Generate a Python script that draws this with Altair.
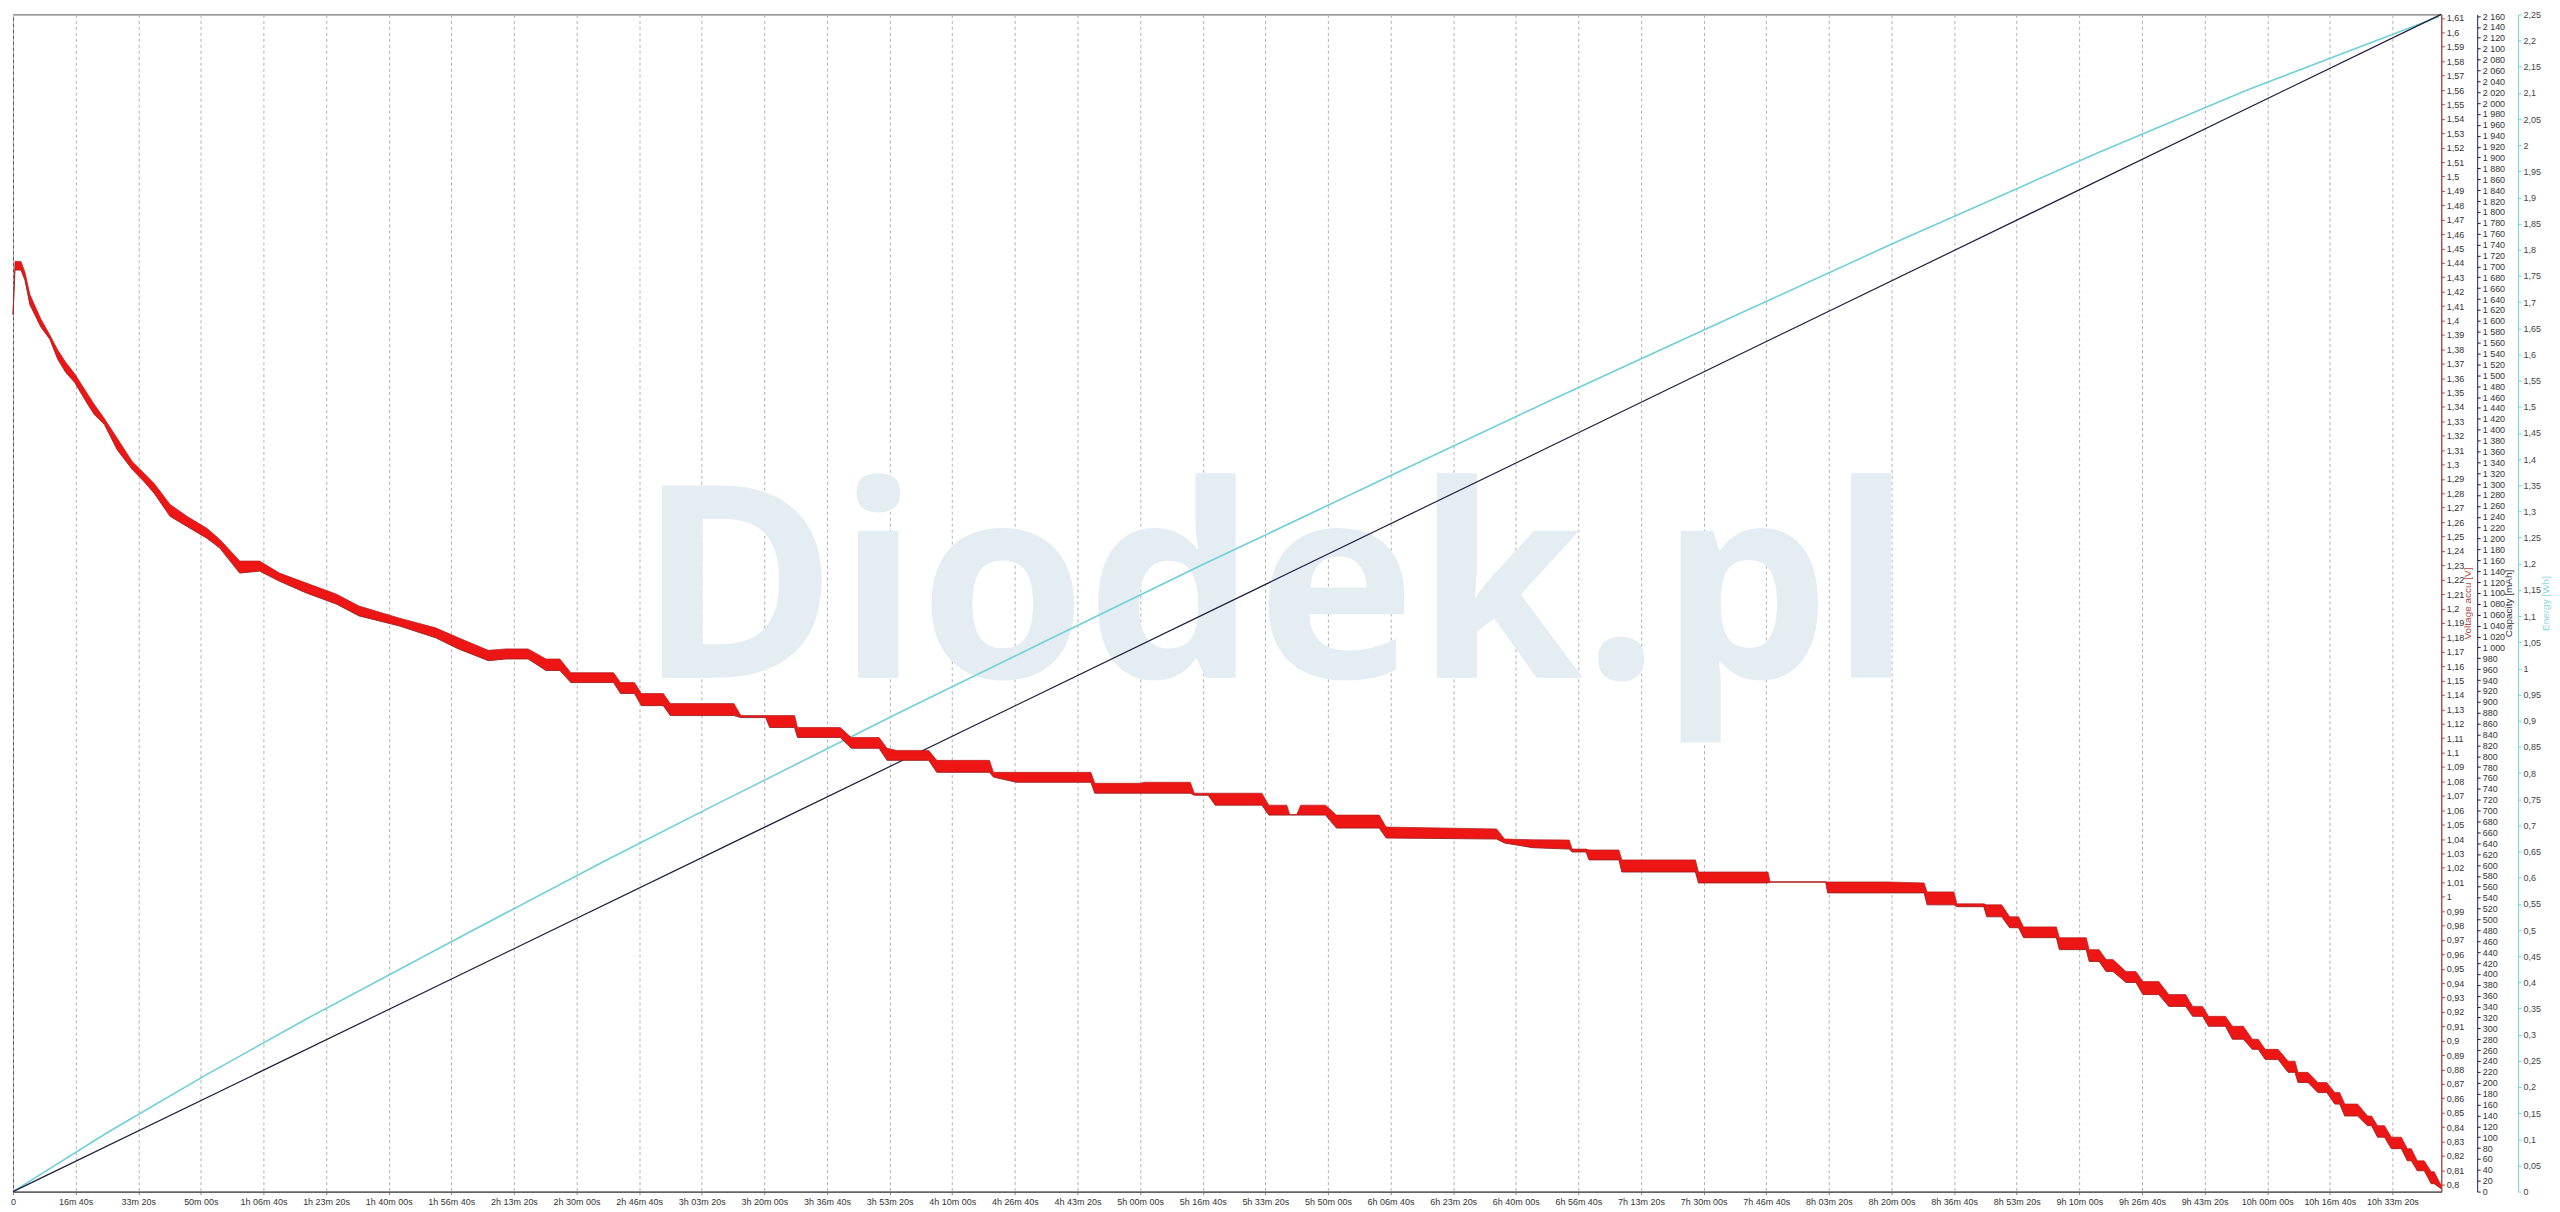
import altair as alt
import pandas as pd

# ---------------- data ----------------
# voltage trace envelope (time in seconds, lower / upper edge of the noisy red band, V)
v_t = [0, 32, 127, 191, 270, 445, 588, 715, 842, 985, 1191, 1302, 1461, 1667, 1906, 2096,
       2255, 2509, 2779, 3097, 3303, 3621, 3938, 4256, 4685, 5161, 5526, 6161, 6749, 7114, 7591,
       7876, 8226, 8512, 8734, 8909, 9591, 9703, 9925, 10036, 10386, 10497, 11513, 11624, 12021,
       12085, 12482, 12529, 13212, 13387, 13831, 13959, 14117, 14625, 14753, 15594, 15658,
       16023, 17214, 17277, 18008, 18071, 18802, 18865, 19088, 19199, 19945, 20056, 20342, 20390,
       20501, 20565, 20962, 21136, 21819, 21930, 23693,
       23821, 24265, 24853, 24900, 25122, 25170, 25646, 25694, 26869, 26917, 28028, 28060, 28949,
       28981, 29934, 30521, 30569, 30998, 31045, 31474,
       31522, 31760, 31887, 32030, 32109, 32633, 32681, 33110, 33157, 33316, 33427, 33538, 33745,
       33904, 34015, 34269, 34428, 34698, 34809, 34968, 35063, 35333, 35444, 35619, 35762, 35857,
       35968, 36174, 36333, 36444, 36492, 36651, 36809, 36952, 37079, 37158, 37238, 37444, 37603,
       37667, 37762, 37873, 37984, 38143, 38238, 38302, 38397, 38508, 38619, 38667, 38778]
v_lo = [1.404, 1.435, 1.435, 1.428, 1.411, 1.3955, 1.387, 1.373, 1.364, 1.357, 1.342, 1.3346,
        1.3277, 1.310, 1.2965, 1.288, 1.280, 1.264, 1.257, 1.2488, 1.242, 1.2246, 1.226, 1.219,
        1.2108, 1.2032, 1.1949, 1.188, 1.1797, 1.172, 1.1638,
        1.165, 1.165, 1.157, 1.157, 1.1486, 1.1486, 1.141, 1.141, 1.1326, 1.1326, 1.1257, 1.1257,
        1.1243, 1.1243, 1.1174, 1.1174, 1.1105, 1.1105, 1.103, 1.103, 1.0946, 1.0946, 1.0946,
        1.0863, 1.0863, 1.083,
        1.0794, 1.0794, 1.0718, 1.0718, 1.0718, 1.0718, 1.0704, 1.0704, 1.0635, 1.0635, 1.0566,
        1.0566, 1.0566, 1.0566, 1.0566, 1.0566, 1.0476, 1.0476, 1.0407, 1.040,
        1.0372, 1.034, 1.033, 1.031, 1.031, 1.0255, 1.0255, 1.0171, 1.0171, 1.0095, 1.0095, 1.010,
        1.010, 1.0026, 1.0026, 1.0026, 0.9943, 0.9943, 0.993, 0.993,
        0.986, 0.986, 0.9784, 0.9784, 0.9715, 0.9715, 0.9632, 0.9632, 0.955, 0.955, 0.948, 0.948,
        0.9404, 0.9404, 0.932, 0.932, 0.9238, 0.9238, 0.9169, 0.9169, 0.91, 0.91, 0.901, 0.901,
        0.894, 0.894, 0.887, 0.887, 0.878, 0.878, 0.871, 0.871, 0.864, 0.864, 0.856, 0.856,
        0.8477, 0.8477, 0.841, 0.841, 0.833, 0.833, 0.825, 0.825, 0.8166, 0.8166, 0.8097, 0.8097,
        0.8007, 0.8007, 0.7972]
v_hi = [1.404, 1.441, 1.441, 1.4335, 1.418, 1.401, 1.390, 1.3795, 1.371, 1.363, 1.349, 1.3415,
        1.3318, 1.318, 1.302, 1.2938, 1.2868, 1.2723, 1.264, 1.2557, 1.248, 1.233, 1.233, 1.2246,
        1.2177, 1.2101, 1.2018, 1.1935, 1.1866, 1.1797, 1.171,
        1.172, 1.172, 1.165, 1.165, 1.1555, 1.1555, 1.1486, 1.1486, 1.141, 1.141, 1.134, 1.134,
        1.1257, 1.1257, 1.1257, 1.1257, 1.1174, 1.1174, 1.1105, 1.1105, 1.103, 1.1015, 1.1015,
        1.0946, 1.0946, 1.0863,
        1.0863, 1.0863, 1.0787, 1.0787, 1.0794, 1.0794, 1.0718, 1.0718, 1.0718, 1.0718, 1.0635,
        1.0635, 1.057, 1.057, 1.0635, 1.0635, 1.0566, 1.0566, 1.0483, 1.047,
        1.040, 1.0395, 1.0393, 1.033, 1.033, 1.0324, 1.0324, 1.0255, 1.0255, 1.0171, 1.0171,
        1.0104, 1.0104, 1.0102, 1.0102, 1.0095, 1.0033, 1.0033, 0.995, 0.995,
        0.9943, 0.9943, 0.986, 0.986, 0.979, 0.979, 0.9715, 0.9715, 0.9632, 0.9632, 0.9563,
        0.9563, 0.948, 0.948, 0.941, 0.941, 0.932, 0.932, 0.9238, 0.9238, 0.9169, 0.9169, 0.91,
        0.91, 0.901, 0.901, 0.894, 0.894, 0.8858, 0.8858, 0.878, 0.878, 0.871, 0.871, 0.864,
        0.864, 0.856, 0.856, 0.8477, 0.8477, 0.841, 0.841, 0.833, 0.833, 0.825, 0.825, 0.8166,
        0.8166, 0.809, 0.809, 0.7995]

# capacity (mAh) and energy (Wh) against time (s)
cap_t = [0, 38778]
cap_mah = [0, 2163]
en_t = [0, 1509, 3097, 4685, 7067, 9449, 11291, 14213, 16436, 18977, 22149, 24535, 27298,
        30093, 33269, 35651, 38747]
en_wh = [0, 0.113, 0.224, 0.330, 0.482, 0.632, 0.744, 0.919, 1.049, 1.197, 1.377, 1.511,
         1.663, 1.816, 1.984, 2.104, 2.246]

# axis tick values
x_ticks = list(range(0, 38001, 1000))
v_ticks = [round(0.80 + 0.01 * i, 2) for i in range(82)]
cap_ticks = list(range(0, 2161, 20))
en_ticks = [round(0.05 * i, 2) for i in range(46)]
watermark = ["Diodek.pl"]

assert len(v_t) == len(v_lo) == len(v_hi)

# ---------------- chart ----------------
W, H = 2434, 1180
T_DOM = [0, 38780]
V_DOM = [0.7952, 1.6125]
CAP_DOM = [0, 2163]
EN_DOM = [0, 2.25]

volt = pd.DataFrame({"t": v_t, "lo": v_lo, "hi": v_hi})
cap = pd.DataFrame({"t": cap_t, "c": cap_mah})
en = pd.DataFrame({"t": en_t, "e": en_wh})
wm = pd.DataFrame({"txt": watermark})

x_label = ("datum.value == 0 ? '0' : (datum.value >= 3600 ? floor(datum.value/3600) + 'h ' + "
           "format(floor((datum.value % 3600)/60), '02d') + 'm ' : floor(datum.value/60) + 'm ') + "
           "format(datum.value % 60, '02d') + 's'")
x_axis = alt.Axis(values=x_ticks, labelExpr=x_label, grid=True, gridDash=[3, 3],
                  gridColor="#b0b0b0", gridWidth=1, domainColor="#444444", tickColor="#888888",
                  tickSize=3, labelFontSize=9, labelColor="#333333", labelPadding=3,
                  labelFlush=False, labelOverlap=False, title=None)
x_enc = alt.X("t:Q", scale=alt.Scale(domain=T_DOM, nice=False, zero=False), axis=x_axis)

dec_label = "replace(format(datum.value, '.2~f'), '.', ',')"

wm_layer = alt.Chart(wm).mark_text(font="Open Sans", fontWeight="bold", fontSize=270,
                                   color="#e4edf2", align="center", baseline="alphabetic").encode(
    x=alt.value(1265), y=alt.value(665), text="txt:N")

en_layer = alt.Chart(en).mark_line(color="#6fd0d9", strokeWidth=1.6).encode(
    x=x_enc,
    y=alt.Y("e:Q", scale=alt.Scale(domain=EN_DOM, nice=False, zero=False),
            axis=alt.Axis(orient="right", offset=77, values=en_ticks, labelExpr=dec_label,
                          domainColor="#6fd3dc", tickColor="#6fd3dc", tickSize=3,
                          labelFontSize=9, labelColor="#444444", labelPadding=2, grid=False,
                          labelOverlap=False, labelFlush=False,
                          title="Energy [Wh]", titleColor="#86d6e3", titleFontSize=10,
                          titleFontWeight="normal", titleAngle=270, titleX=27, titleY=H / 2,
                          titleAlign="center", titleBaseline="middle")))

cap_layer = alt.Chart(cap).mark_line(color="#1c1c3c", strokeWidth=1.2).encode(
    x=x_enc,
    y=alt.Y("c:Q", scale=alt.Scale(domain=CAP_DOM, nice=False, zero=False),
            axis=alt.Axis(orient="right", offset=36, values=cap_ticks,
                          labelExpr="replace(format(datum.value, ',d'), ',', ' ')",
                          domainColor="#1e1e50", tickColor="#1e1e50", tickSize=3,
                          labelFontSize=9, labelColor="#333333", labelPadding=2, grid=False,
                          labelOverlap=False, labelFlush=False,
                          title="Capacity [mAh]", titleColor="#333344", titleFontSize=10,
                          titleFontWeight="normal", titleAngle=270, titleX=31, titleY=H / 2,
                          titleAlign="center", titleBaseline="middle")))

v_scale = alt.Scale(domain=V_DOM, nice=False, zero=False)
area_layer = alt.Chart(volt).mark_area(color="#ee1515", opacity=1).encode(
    x=x_enc,
    y=alt.Y("lo:Q", scale=v_scale,
            axis=alt.Axis(orient="right", values=v_ticks, labelExpr=dec_label,
                          domainColor="#c43c3c", tickColor="#c43c3c", tickSize=3,
                          labelFontSize=9, labelColor="#333333", labelPadding=2, grid=False,
                          labelOverlap=False, labelFlush=False,
                          title="Voltage accu [V]", titleColor="#b04a4a", titleFontSize=10,
                          titleFontWeight="normal", titleAngle=270, titleX=26, titleY=H / 2,
                          titleAlign="center", titleBaseline="middle")),
    y2="hi:Q")
lo_layer = alt.Chart(volt).mark_line(color="#9a2020", strokeWidth=0.9).encode(
    x=x_enc, y=alt.Y("lo:Q", scale=v_scale, axis=None))
hi_layer = alt.Chart(volt).mark_line(color="#b02020", strokeWidth=0.7).encode(
    x=x_enc, y=alt.Y("hi:Q", scale=v_scale, axis=None))

chart = alt.layer(wm_layer, en_layer, cap_layer, area_layer, lo_layer, hi_layer).resolve_scale(
    y="independent"
).properties(
    width=W, height=H, autosize="none",
    padding={"left": 5, "top": 5, "right": 111, "bottom": 15},
    background="white",
).configure_view(stroke="#555555", strokeWidth=1).configure_axis(
    labelFont="Liberation Sans", titleFont="Liberation Sans")

chart.save("out.html", embed_options={"renderer": "svg", "actions": False})
